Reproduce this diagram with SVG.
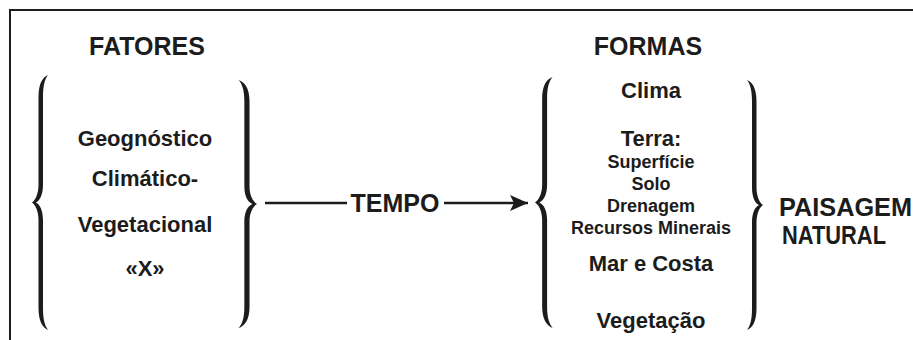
<svg xmlns="http://www.w3.org/2000/svg" width="913" height="340" viewBox="0 0 913 340">
  <defs>
    <style>
      text { font-family: "Liberation Sans", Arial, sans-serif; font-weight: bold; fill: #1c1c1c; }
      .head { font-size: 25px; text-anchor: middle; }
      .item { font-size: 22px; text-anchor: middle; }
      .sub { font-size: 18px; text-anchor: middle; }
      .big { font-size: 25px; }
      .frame { fill: none; stroke: #1c1c1c; stroke-width: 2; }
      .brace { fill: #1c1c1c; }
      .link { fill: none; stroke: #1c1c1c; stroke-width: 2.5; }
    </style>
    <!-- opening curly brace, 16 wide by 256 tall, tip at (0,128) -->
    <path id="brace" d="M16,0 C11,2 6.5,8 6.5,22 L6.5,110 C6.5,120 3,126 0,128 C3,130 6.5,136 6.5,146 L6.5,234 C6.5,248 11,254 16,256 C13,252 11,246 11,234 L11,146 C11,136 8,130 4,128 C8,126 11,120 11,110 L11,22 C11,10 13,4 16,0 Z"/>
    <marker id="arrow" markerWidth="20" markerHeight="16" refX="18" refY="8" orient="auto" markerUnits="userSpaceOnUse">
      <path d="M0,0 L18,8 L0,16 L4,8 Z" fill="#1c1c1c"/>
    </marker>
  </defs>

  <rect width="913" height="340" fill="#ffffff"/>
  <path class="frame" d="M10,340 V10 H913"/>

  <g id="fatores">
    <text class="head" x="147" y="55">FATORES</text>
    <use href="#brace" class="brace" transform="translate(32,75) scale(1,0.996)"/>
    <text class="item" x="145" y="146">Geognóstico</text>
    <text class="item" x="145" y="186">Climático-</text>
    <text class="item" x="145" y="232">Vegetacional</text>
    <text class="item" x="145" y="276">«X»</text>
    <use href="#brace" class="brace" transform="translate(257,80) scale(-1.15,0.969)"/>
  </g>

  <g id="connectors">
    <line class="link" x1="265" y1="203" x2="347" y2="203"/>
    <line class="link" x1="444" y1="203" x2="528" y2="203" marker-end="url(#arrow)"/>
  </g>

  <g id="tempo">
    <text class="head" x="395" y="212">TEMPO</text>
  </g>

  <g id="formas">
    <text class="head" x="648" y="55">FORMAS</text>
    <use href="#brace" class="brace" transform="translate(535,77) scale(1.1,0.98)"/>
    <text class="item" x="651" y="98">Clima</text>
    <text class="item" x="651" y="146">Terra:</text>
    <text class="sub" x="651" y="168">Superfície</text>
    <text class="sub" x="651" y="190">Solo</text>
    <text class="sub" x="651" y="212">Drenagem</text>
    <text class="sub" x="651" y="234">Recursos Minerais</text>
    <text class="item" x="651" y="271">Mar e Costa</text>
    <text class="item" x="651" y="328">Vegetação</text>
    <use href="#brace" class="brace" transform="translate(763,80) scale(-1,0.977)"/>
  </g>

  <g id="paisagem">
    <text class="big" x="779" y="216" textLength="133" lengthAdjust="spacingAndGlyphs">PAISAGEM</text>
    <text class="big" x="782" y="244" textLength="104" lengthAdjust="spacingAndGlyphs">NATURAL</text>
  </g>
</svg>
